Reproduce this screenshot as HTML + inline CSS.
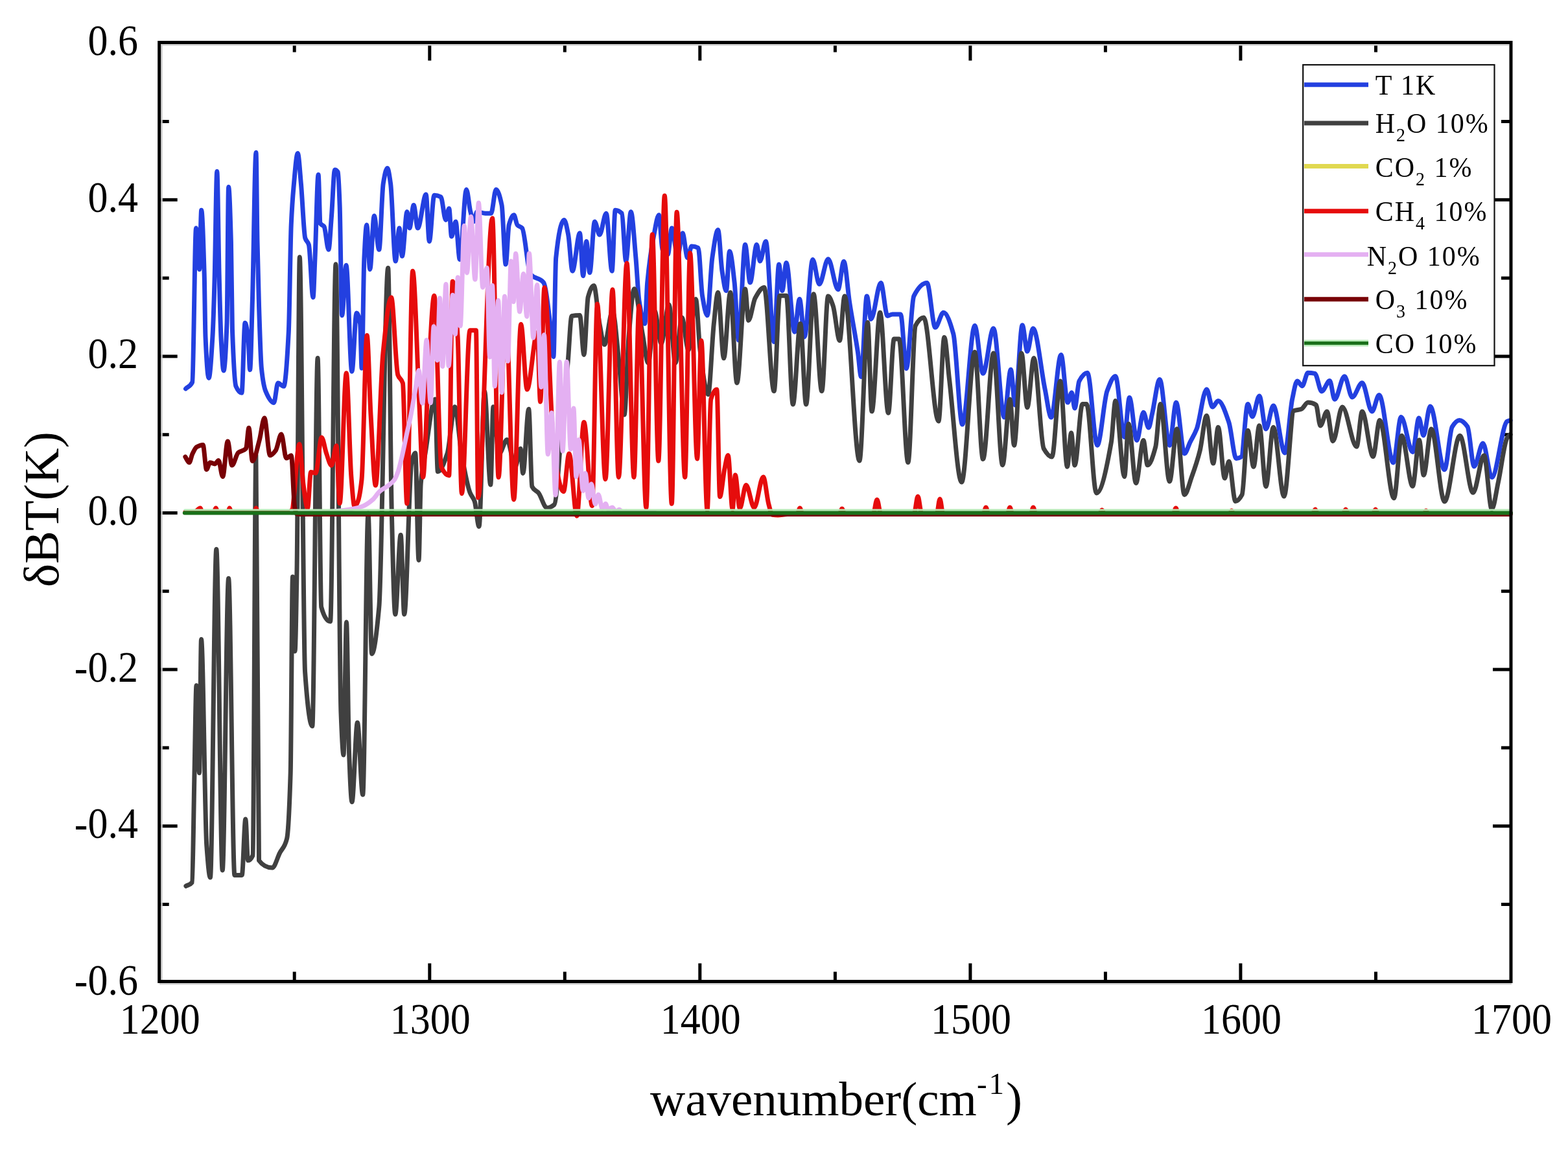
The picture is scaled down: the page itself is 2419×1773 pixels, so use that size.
<!DOCTYPE html><html><head><meta charset="utf-8"><style>html,body{margin:0;padding:0;background:#fff;}svg{display:block}text{font-family:"Liberation Serif","Times New Roman",serif;fill:#000}</style></head><body>
<svg xmlns="http://www.w3.org/2000/svg" width="2419" height="1773" viewBox="0 0 2419 1773">
<rect width="2419" height="1773" fill="#fff"/>
<g stroke="#000" stroke-width="5">
<line x1="245.7" y1="187.5" x2="260.7" y2="187.5"/>
<line x1="2331.0" y1="187.5" x2="2316.0" y2="187.5"/>
<line x1="245.7" y1="308.3" x2="273.7" y2="308.3"/>
<line x1="2331.0" y1="308.3" x2="2303.0" y2="308.3"/>
<line x1="245.7" y1="429.1" x2="260.7" y2="429.1"/>
<line x1="2331.0" y1="429.1" x2="2316.0" y2="429.1"/>
<line x1="245.7" y1="549.9" x2="273.7" y2="549.9"/>
<line x1="2331.0" y1="549.9" x2="2303.0" y2="549.9"/>
<line x1="245.7" y1="670.7" x2="260.7" y2="670.7"/>
<line x1="2331.0" y1="670.7" x2="2316.0" y2="670.7"/>
<line x1="245.7" y1="791.5" x2="273.7" y2="791.5"/>
<line x1="2331.0" y1="791.5" x2="2303.0" y2="791.5"/>
<line x1="245.7" y1="912.3" x2="260.7" y2="912.3"/>
<line x1="2331.0" y1="912.3" x2="2316.0" y2="912.3"/>
<line x1="245.7" y1="1033.1" x2="273.7" y2="1033.1"/>
<line x1="2331.0" y1="1033.1" x2="2303.0" y2="1033.1"/>
<line x1="245.7" y1="1153.9" x2="260.7" y2="1153.9"/>
<line x1="2331.0" y1="1153.9" x2="2316.0" y2="1153.9"/>
<line x1="245.7" y1="1274.7" x2="273.7" y2="1274.7"/>
<line x1="2331.0" y1="1274.7" x2="2303.0" y2="1274.7"/>
<line x1="245.7" y1="1395.5" x2="260.7" y2="1395.5"/>
<line x1="2331.0" y1="1395.5" x2="2316.0" y2="1395.5"/>
<line x1="454.2" y1="65.5" x2="454.2" y2="80.5"/>
<line x1="454.2" y1="1514.5" x2="454.2" y2="1499.5"/>
<line x1="662.8" y1="65.5" x2="662.8" y2="93.5"/>
<line x1="662.8" y1="1514.5" x2="662.8" y2="1486.5"/>
<line x1="871.3" y1="65.5" x2="871.3" y2="80.5"/>
<line x1="871.3" y1="1514.5" x2="871.3" y2="1499.5"/>
<line x1="1079.8" y1="65.5" x2="1079.8" y2="93.5"/>
<line x1="1079.8" y1="1514.5" x2="1079.8" y2="1486.5"/>
<line x1="1288.4" y1="65.5" x2="1288.4" y2="80.5"/>
<line x1="1288.4" y1="1514.5" x2="1288.4" y2="1499.5"/>
<line x1="1496.9" y1="65.5" x2="1496.9" y2="93.5"/>
<line x1="1496.9" y1="1514.5" x2="1496.9" y2="1486.5"/>
<line x1="1705.4" y1="65.5" x2="1705.4" y2="80.5"/>
<line x1="1705.4" y1="1514.5" x2="1705.4" y2="1499.5"/>
<line x1="1913.9" y1="65.5" x2="1913.9" y2="93.5"/>
<line x1="1913.9" y1="1514.5" x2="1913.9" y2="1486.5"/>
<line x1="2122.5" y1="65.5" x2="2122.5" y2="80.5"/>
<line x1="2122.5" y1="1514.5" x2="2122.5" y2="1499.5"/>
</g>
<g fill="none" stroke-width="7" stroke-linejoin="round" stroke-linecap="round">
<path stroke="#2340e0" d="M286.5,599.9C289.9,596.5 293.3,597.0 296.7,589.8C298.6,585.7 300.6,352.1 302.5,352.1C304.2,352.1 305.9,415.7 307.6,415.7C308.6,415.7 309.7,324.2 310.7,324.2C312.2,324.2 313.7,373.5 315.2,423.3C315.8,443.2 316.4,506.4 317.0,519.9C318.7,558.1 320.4,583.4 322.1,583.4C324.0,583.4 326.0,551.7 327.9,519.9C328.9,502.9 330.0,468.6 331.0,433.5C332.3,390.4 333.5,264.5 334.8,264.5C335.9,264.5 337.0,380.5 338.1,423.3C339.1,463.5 340.2,506.1 341.2,525.0C342.5,548.1 343.7,572.0 345.0,572.0C346.7,572.0 348.3,543.7 350.0,499.5C350.9,476.5 351.7,288.6 352.6,288.6C353.9,288.6 355.1,328.0 356.4,372.5C357.1,395.9 357.7,488.2 358.4,507.2C360.3,560.4 362.1,591.8 364.0,596.1C367.0,602.9 369.9,606.3 372.9,606.3C374.6,606.3 376.3,498.3 378.0,498.3C379.7,498.3 381.4,510.2 383.1,525.0C383.9,532.2 384.8,570.7 385.6,570.7C386.9,570.7 388.1,505.7 389.4,464.0C391.3,402.6 393.1,235.2 395.0,235.2C395.7,235.2 396.3,338.9 397.0,372.5C397.9,416.2 398.7,447.5 399.6,474.1C400.9,513.0 402.1,556.1 403.4,568.2C405.5,588.6 407.7,598.6 409.8,603.7C414.0,613.8 418.3,621.5 422.5,621.5C424.6,621.5 426.7,591.0 428.8,591.0C431.8,591.0 434.7,596.1 437.7,596.1C440.2,596.1 442.8,559.5 445.3,512.2C446.6,487.9 447.9,376.4 449.2,347.1C450.5,318.6 451.7,302.6 453.0,288.6C455.1,265.4 457.2,236.5 459.3,236.5C461.0,236.5 462.7,265.2 464.4,283.5C466.5,306.4 468.7,360.7 470.8,367.4C472.7,373.3 474.5,371.8 476.4,377.6C478.6,384.4 480.8,458.9 483.0,458.9C484.0,458.9 485.0,420.2 486.0,397.9C487.7,360.0 489.4,269.6 491.1,269.6C492.1,269.6 493.1,342.6 494.1,344.5C496.1,348.2 498.0,346.7 500.0,349.6C502.3,352.9 504.6,385.2 506.9,385.2C508.4,385.2 509.9,353.2 511.4,334.4C513.1,313.1 514.8,261.9 516.5,261.9C518.1,261.9 519.7,263.1 521.3,265.7C522.2,267.2 523.2,292.3 524.1,316.6C525.3,347.0 526.4,486.8 527.6,486.8C529.7,486.8 531.9,409.3 534.0,409.3C537.0,409.3 539.9,573.2 542.9,573.2C545.3,573.2 547.6,483.0 550.0,483.0C551.9,483.0 553.7,488.4 555.6,499.5C556.4,504.4 557.3,568.2 558.1,568.2C559.4,568.2 560.6,424.0 561.9,397.9C563.2,371.8 564.4,347.1 565.7,347.1C567.4,347.1 569.1,415.7 570.8,415.7C572.9,415.7 575.1,333.1 577.2,333.1C579.7,333.1 582.3,385.2 584.8,385.2C586.9,385.2 589.1,296.6 591.2,283.5C593.3,270.6 595.4,259.4 597.5,259.4C599.2,259.4 600.9,271.6 602.6,283.5C605.1,301.3 607.7,403.0 610.2,403.0C612.2,403.0 614.1,352.1 616.1,352.1C617.5,352.1 619.0,395.3 620.4,395.3C622.9,395.3 625.5,326.7 628.0,326.7C629.3,326.7 630.5,352.1 631.8,352.1C633.9,352.1 636.1,316.6 638.2,316.6C640.3,316.6 642.4,352.1 644.5,352.1C648.7,352.1 653.0,300.0 657.2,300.0C658.9,300.0 660.6,372.5 662.3,372.5C664.8,372.5 667.4,301.3 669.9,301.3C673.3,301.3 676.7,302.2 680.1,303.9C682.6,305.2 685.2,339.4 687.7,339.4C689.4,339.4 691.1,321.7 692.8,321.7C694.1,321.7 695.3,364.9 696.6,364.9C698.7,364.9 700.9,342.0 703.0,342.0C705.1,342.0 707.2,400.4 709.3,400.4C712.7,400.4 716.1,292.4 719.5,292.4C721.6,292.4 723.7,318.7 725.8,326.7C727.5,333.2 729.2,342.0 730.9,342.0C732.6,342.0 734.3,326.7 736.0,326.7C740.2,326.7 744.5,329.3 748.7,329.3C751.7,329.3 754.6,329.3 757.6,329.3C760.1,329.3 762.7,292.4 765.2,292.4C768.2,292.4 771.1,302.3 774.1,316.6C776.1,326.4 778.2,408.0 780.2,408.0C781.9,408.0 783.5,353.0 785.2,347.0C787.8,337.8 790.3,331.8 792.9,331.8C794.6,331.8 796.3,345.1 798.0,347.0C800.5,349.9 803.1,349.3 805.6,352.1C809.8,356.9 814.1,418.2 818.3,423.3C825.1,431.4 831.8,427.5 838.6,436.0C842.0,440.2 845.4,472.7 848.8,499.5C850.5,512.9 852.2,550.4 853.9,550.4C855.2,550.4 856.4,410.1 857.7,397.9C861.9,357.1 866.2,339.4 870.4,339.4C872.5,339.4 874.6,351.5 876.7,362.3C878.8,373.2 881.0,418.2 883.1,418.2C886.9,418.2 890.7,359.8 894.5,359.8C896.2,359.8 897.9,425.8 899.6,425.8C901.3,425.8 903.0,372.5 904.7,372.5C906.4,372.5 908.1,420.8 909.8,420.8C912.3,420.8 914.9,342.0 917.4,342.0C919.9,342.0 922.5,362.3 925.0,362.3C928.4,362.3 931.8,329.3 935.2,329.3C938.2,329.3 941.1,418.2 944.1,418.2C945.8,418.2 947.5,324.2 949.2,324.2C952.6,324.2 955.9,325.8 959.3,329.3C961.4,331.5 963.6,403.0 965.7,403.0C968.2,403.0 970.8,326.7 973.3,326.7C975.8,326.7 978.4,370.1 980.9,397.9C982.6,416.6 984.3,453.1 986.0,464.0C989.0,483.0 991.9,499.5 994.9,499.5C996.2,499.5 997.4,449.6 998.7,436.0C1002.1,399.5 1005.5,379.6 1008.9,362.3C1011.4,349.4 1014.0,331.8 1016.5,331.8C1018.3,331.8 1020.2,381.9 1022.0,385.2C1024.7,390.1 1027.5,392.8 1030.2,392.8C1032.3,392.8 1034.4,352.1 1036.5,352.1C1039.5,352.1 1042.4,395.3 1045.4,395.3C1047.9,395.3 1050.5,359.8 1053.0,359.8C1055.6,359.8 1058.1,397.9 1060.7,397.9C1062.8,397.9 1064.9,380.1 1067.0,380.1C1070.4,380.1 1073.8,380.8 1077.2,382.6C1079.3,383.7 1081.4,443.7 1083.5,456.3C1086.1,471.7 1088.6,486.8 1091.2,486.8C1093.7,486.8 1096.3,415.5 1098.8,397.9C1101.8,377.3 1104.7,354.7 1107.7,354.7C1109.8,354.7 1111.9,404.6 1114.0,418.2C1116.1,432.0 1118.3,448.7 1120.4,448.7C1122.1,448.7 1123.8,387.7 1125.5,387.7C1128.0,387.7 1130.6,413.5 1133.1,436.0C1135.2,454.6 1137.3,525.0 1139.4,525.0C1142.8,525.0 1146.2,377.6 1149.6,377.6C1152.1,377.6 1154.7,436.0 1157.2,436.0C1160.6,436.0 1164.0,377.6 1167.4,377.6C1169.1,377.6 1170.8,403.0 1172.5,403.0C1175.5,403.0 1178.4,372.5 1181.4,372.5C1185.6,372.5 1189.9,527.5 1194.1,527.5C1196.6,527.5 1199.2,408.0 1201.7,408.0C1203.4,408.0 1205.1,448.7 1206.8,448.7C1208.9,448.7 1211.0,405.5 1213.1,405.5C1217.3,405.5 1221.6,512.2 1225.8,512.2C1228.4,512.2 1230.9,461.4 1233.5,461.4C1236.0,461.4 1238.6,519.9 1241.1,519.9C1245.3,519.9 1249.6,400.4 1253.8,400.4C1257.2,400.4 1260.6,438.6 1264.0,438.6C1268.5,438.6 1273.1,399.7 1277.6,399.7C1282.7,399.7 1287.8,446.7 1292.9,446.7C1295.9,446.7 1298.8,403.5 1301.8,403.5C1304.8,403.5 1307.7,447.6 1310.7,467.1C1314.9,494.9 1319.2,514.7 1323.4,543.3C1325.1,554.8 1326.8,581.4 1328.5,581.4C1331.4,581.4 1334.4,456.9 1337.3,456.9C1339.4,456.9 1341.6,492.5 1343.7,492.5C1348.8,492.5 1353.8,436.6 1358.9,436.6C1362.3,436.6 1365.7,487.4 1369.1,487.4C1371.6,487.4 1374.2,484.9 1376.7,484.9C1380.9,484.9 1385.2,484.9 1389.4,484.9C1392.4,484.9 1395.3,568.7 1398.3,568.7C1402.1,568.7 1406.0,464.4 1409.8,456.9C1416.6,443.6 1423.3,436.6 1430.1,436.6C1434.3,436.6 1438.6,505.2 1442.8,505.2C1447.0,505.2 1451.3,482.3 1455.5,482.3C1460.6,482.3 1465.7,497.0 1470.8,515.3C1475.4,531.9 1480.1,655.1 1484.7,655.1C1491.1,655.1 1497.4,502.6 1503.8,502.6C1508.0,502.6 1512.3,576.3 1516.5,576.3C1521.9,576.3 1527.3,506.7 1532.7,506.7C1538.2,506.7 1543.7,644.0 1549.2,644.0C1552.6,644.0 1556.0,570.3 1559.4,570.3C1561.6,570.3 1563.8,625.0 1566.0,625.0C1569.7,625.0 1573.5,501.7 1577.2,501.7C1579.7,501.7 1582.3,542.3 1584.8,542.3C1587.8,542.3 1590.7,506.7 1593.7,506.7C1599.8,506.7 1605.9,570.9 1612.0,600.0C1615.2,615.4 1618.5,644.0 1621.7,644.0C1626.8,644.0 1631.8,547.4 1636.9,547.4C1640.3,547.4 1643.7,621.1 1647.1,621.1C1649.2,621.1 1651.3,605.8 1653.4,605.8C1654.9,605.8 1656.5,630.0 1658.0,630.0C1660.3,630.0 1662.6,592.4 1664.9,588.1C1669.1,580.2 1673.4,575.3 1677.6,575.3C1682.7,575.3 1687.7,687.2 1692.8,687.2C1697.9,687.2 1702.9,616.8 1708.0,603.3C1712.3,591.9 1716.5,580.4 1720.8,580.4C1725.4,580.4 1730.1,674.5 1734.7,674.5C1737.3,674.5 1739.8,613.5 1742.4,613.5C1746.2,613.5 1750.0,679.5 1753.8,679.5C1757.2,679.5 1760.6,636.3 1764.0,636.3C1766.7,636.3 1769.3,660.0 1772.0,660.0C1773.9,660.0 1775.7,645.8 1777.6,638.0C1781.4,622.0 1785.3,585.5 1789.1,585.5C1794.2,585.5 1799.2,687.2 1804.3,687.2C1807.7,687.2 1811.1,621.1 1814.5,621.1C1818.7,621.1 1823.0,699.9 1827.2,699.9C1830.2,699.9 1833.1,688.0 1836.1,682.1C1839.5,675.4 1842.8,670.6 1846.2,661.8C1851.3,648.5 1856.4,600.8 1861.5,600.8C1864.5,600.8 1867.5,628.0 1870.5,628.0C1873.4,628.0 1876.4,618.6 1879.3,618.6C1884.8,618.6 1890.3,635.6 1895.8,651.6C1899.6,662.7 1903.4,707.5 1907.2,707.5C1909.8,707.5 1912.3,706.5 1914.9,705.0C1918.3,703.0 1921.6,623.6 1925.0,623.6C1927.3,623.6 1929.7,643.0 1932.0,643.0C1935.6,643.0 1939.2,610.9 1942.8,610.9C1946.2,610.9 1949.6,662.0 1953.0,662.0C1956.8,662.0 1960.6,626.1 1964.4,626.1C1970.3,626.1 1976.3,699.0 1982.2,699.0C1986.0,699.0 1989.8,634.0 1993.6,616.0C1996.2,603.8 1998.7,588.1 2001.3,588.1C2003.8,588.1 2006.4,595.7 2008.9,595.7C2011.9,595.7 2014.8,575.3 2017.8,575.3C2021.4,575.3 2024.9,575.7 2028.5,576.4C2032.0,577.1 2035.5,604.0 2039.0,604.0C2043.1,604.0 2047.3,587.5 2051.4,587.5C2053.9,587.5 2056.5,616.3 2059.0,616.3C2064.1,616.3 2069.1,580.7 2074.2,580.7C2078.2,580.7 2082.1,612.9 2086.1,612.9C2091.2,612.9 2096.3,590.8 2101.4,590.8C2106.5,590.8 2111.5,634.9 2116.6,634.9C2120.3,634.9 2123.9,609.5 2127.6,609.5C2134.9,609.5 2142.2,714.0 2149.5,714.0C2153.5,714.0 2157.5,643.4 2161.5,643.4C2167.4,643.4 2173.4,697.6 2179.3,697.6C2182.5,697.6 2185.8,645.0 2189.0,645.0C2191.3,645.0 2193.7,672.0 2196.0,672.0C2199.5,672.0 2202.9,627.0 2206.4,627.0C2213.8,627.0 2221.1,724.7 2228.5,724.7C2232.4,724.7 2236.4,664.7 2240.3,658.6C2244.0,652.8 2247.7,648.5 2251.4,648.5C2255.6,648.5 2259.8,652.5 2264.0,658.6C2267.4,663.5 2270.8,719.7 2274.2,719.7C2278.7,719.7 2283.3,684.1 2287.8,684.1C2292.3,684.1 2296.9,736.6 2301.4,736.6C2309.3,736.6 2317.2,654.4 2325.1,650.2C2326.7,649.3 2328.4,649.1 2330.0,648.5"/>
<path stroke="#404040" d="M286.9,1367.2C290.0,1365.3 293.2,1365.9 296.3,1361.6C297.5,1359.9 298.8,1248.7 300.0,1192.8C301.0,1147.5 302.0,1057.7 303.0,1057.7C304.5,1057.7 306.0,1192.8 307.5,1192.8C308.5,1192.8 309.5,986.4 310.5,986.4C313.3,986.4 316.0,1267.5 318.8,1305.3C320.7,1330.8 322.5,1354.1 324.4,1354.1C327.5,1354.1 330.7,847.5 333.8,847.5C336.9,847.5 340.1,1342.9 343.2,1342.9C346.3,1342.9 349.5,892.6 352.6,892.6C355.7,892.6 358.8,1350.4 361.9,1350.4C365.7,1350.4 369.4,1350.4 373.2,1350.4C375.1,1350.4 376.9,1264.0 378.8,1264.0C380.1,1264.0 381.3,1327.8 382.6,1327.8C385.1,1327.8 387.5,1325.5 390.0,1320.0C391.6,1316.3 393.3,702.4 394.9,702.4C396.4,702.4 398.0,1325.7 399.5,1327.8C406.4,1337.3 413.2,1339.1 420.1,1339.1C423.9,1339.1 427.6,1324.1 431.4,1316.6C435.1,1309.1 438.9,1308.9 442.6,1294.1C444.5,1286.7 446.3,1252.7 448.2,1192.8C449.3,1157.5 450.4,890.0 451.5,890.0C452.7,890.0 453.8,1005.0 455.0,1005.0C456.0,1005.0 457.0,939.2 458.0,880.0C459.4,795.2 460.9,396.7 462.3,396.7C465.1,396.7 467.8,997.8 470.6,1037.0C474.3,1089.9 478.1,1120.5 481.8,1120.5C484.6,1120.5 487.3,552.6 490.1,552.6C492.0,552.6 493.8,930.1 495.7,936.8C500.3,953.5 505.0,959.0 509.6,959.0C512.4,959.0 515.2,407.8 518.0,407.8C520.7,407.8 523.3,1032.2 526.0,1100.0C527.3,1133.9 528.7,1165.0 530.0,1165.0C531.5,1165.0 533.0,960.0 534.5,960.0C535.8,960.0 537.2,1125.5 538.5,1160.0C540.0,1198.8 541.5,1237.5 543.0,1237.5C545.8,1237.5 548.6,1115.0 551.4,1115.0C554.2,1115.0 556.9,1226.3 559.7,1226.3C562.5,1226.3 565.2,792.0 568.0,792.0C569.9,792.0 571.7,1009.0 573.6,1009.0C577.3,1009.0 581.1,976.9 584.8,936.8C589.4,887.1 594.1,413.4 598.7,413.4C600.5,413.4 602.4,712.2 604.2,786.5C606.1,862.1 607.9,948.0 609.8,948.0C612.6,948.0 615.4,825.4 618.2,825.4C620.0,825.4 621.9,948.0 623.7,948.0C627.4,948.0 631.2,729.9 634.9,714.0C636.8,705.8 638.8,699.0 640.7,699.0C642.5,699.0 644.2,864.4 646.0,864.4C647.1,864.4 648.1,759.8 649.2,746.4C651.5,717.9 653.7,714.0 656.0,700.0C661.1,668.6 666.1,616.0 671.2,616.0C672.6,616.0 674.0,727.8 675.4,727.8C680.3,727.8 685.1,714.4 690.0,700.0C693.9,688.4 697.8,627.8 701.7,627.8C705.1,627.8 708.6,680.7 712.0,700.0C716.3,724.3 720.7,748.8 725.0,760.0C727.4,766.2 729.8,766.8 732.2,773.6C734.5,780.1 736.7,812.5 739.0,812.5C741.8,812.5 744.7,604.0 747.5,604.0C750.6,604.0 753.7,748.1 756.8,748.1C758.2,748.1 759.6,627.8 761.0,627.8C764.0,627.8 767.0,700.0 770.0,700.0C774.1,700.0 778.1,678.6 782.2,678.6C786.5,678.6 790.7,720.0 795.0,720.0C797.7,720.0 800.3,692.3 803.0,692.3C804.3,692.3 805.5,730.4 806.8,730.4C809.8,730.4 812.7,631.3 815.7,631.3C817.4,631.3 819.1,747.1 820.8,750.7C824.2,758.0 827.6,756.6 831.0,760.9C835.2,766.3 839.5,783.7 843.7,783.7C847.5,783.7 851.3,781.8 855.1,778.7C859.4,775.1 863.7,684.4 868.0,640.0C870.7,612.4 873.3,589.3 876.0,560.0C878.0,538.0 880.0,488.2 882.0,487.7C886.2,486.7 890.3,486.4 894.5,486.4C896.6,486.4 898.8,547.4 900.9,547.4C903.0,547.4 905.1,466.2 907.2,458.5C910.2,447.6 913.1,440.7 916.1,440.7C919.1,440.7 922.0,484.6 925.0,500.0C927.5,512.8 929.9,531.8 932.4,531.8C936.6,531.8 940.8,480.0 945.0,480.0C948.3,480.0 951.7,530.4 955.0,560.0C957.7,584.0 960.4,640.0 963.1,640.0C965.4,640.0 967.7,547.3 970.0,520.0C972.8,486.8 975.6,445.7 978.4,445.7C982.6,445.7 986.9,492.2 991.1,514.4C994.1,530.0 997.0,560.0 1000.0,560.0C1003.3,560.0 1006.7,480.0 1010.0,480.0C1013.3,480.0 1016.7,530.0 1020.0,530.0C1024.0,530.0 1028.0,470.0 1032.0,470.0C1035.3,470.0 1038.7,560.0 1042.0,560.0C1045.3,560.0 1048.7,490.0 1052.0,490.0C1055.3,490.0 1058.7,540.0 1062.0,540.0C1065.8,540.0 1069.6,461.4 1073.4,461.4C1075.6,461.4 1077.8,522.7 1080.0,540.0C1084.1,572.5 1088.3,608.7 1092.4,608.7C1095.4,608.7 1098.3,526.7 1101.3,499.4C1103.4,479.7 1105.6,451.2 1107.7,451.2C1110.7,451.2 1113.6,552.8 1116.6,552.8C1120.0,552.8 1123.3,451.2 1126.7,451.2C1130.1,451.2 1133.5,590.9 1136.9,590.9C1141.1,590.9 1145.4,446.1 1149.6,446.1C1151.3,446.1 1153.0,494.4 1154.7,494.4C1158.1,494.4 1161.6,466.2 1165.0,460.0C1169.6,451.7 1174.2,443.5 1178.8,443.5C1183.9,443.5 1189.0,603.6 1194.1,603.6C1197.1,603.6 1200.0,456.2 1203.0,456.2C1206.4,456.2 1209.7,456.2 1213.1,456.2C1216.5,456.2 1219.9,624.0 1223.3,624.0C1227.1,624.0 1230.9,499.4 1234.7,499.4C1237.7,499.4 1240.6,624.0 1243.6,624.0C1247.4,624.0 1251.3,453.7 1255.1,453.7C1259.3,453.7 1263.6,603.6 1267.8,603.6C1271.1,603.6 1274.3,456.9 1277.6,456.9C1280.1,456.9 1282.7,464.9 1285.2,472.1C1288.6,481.7 1292.0,525.5 1295.4,525.5C1297.9,525.5 1300.5,456.9 1303.0,456.9C1310.6,456.9 1318.3,711.0 1325.9,711.0C1330.1,711.0 1334.4,497.6 1338.6,497.6C1340.7,497.6 1342.9,634.8 1345.0,634.8C1349.2,634.8 1353.5,482.3 1357.7,482.3C1361.9,482.3 1366.2,637.3 1370.4,637.3C1373.4,637.3 1376.3,523.0 1379.3,523.0C1381.8,523.0 1384.4,523.0 1386.9,523.0C1391.6,523.0 1396.2,713.6 1400.9,713.6C1404.7,713.6 1408.5,509.9 1412.3,502.6C1416.5,494.4 1420.8,489.9 1425.0,489.9C1432.6,489.9 1440.3,650.0 1447.9,650.0C1450.9,650.0 1453.8,520.4 1456.8,520.4C1459.3,520.4 1461.9,562.8 1464.4,584.0C1470.8,637.3 1477.1,744.1 1483.5,744.1C1490.3,744.1 1497.0,543.3 1503.8,543.3C1508.0,543.3 1512.3,708.5 1516.5,708.5C1521.9,708.5 1527.3,544.9 1532.7,544.9C1537.4,544.9 1542.0,717.7 1546.7,717.7C1550.5,717.7 1554.3,616.0 1558.1,616.0C1560.2,616.0 1562.4,687.2 1564.5,687.2C1568.3,687.2 1572.1,544.9 1575.9,544.9C1578.9,544.9 1581.8,628.7 1584.8,628.7C1588.2,628.7 1591.6,552.5 1595.0,552.5C1600.1,552.5 1605.1,683.4 1610.2,692.3C1614.4,699.8 1618.7,705.0 1622.9,705.0C1627.1,705.0 1631.4,588.1 1635.6,588.1C1639.2,588.1 1642.9,720.2 1646.5,720.2C1648.5,720.2 1650.6,668.0 1652.6,668.0C1654.4,668.0 1656.2,718.0 1658.0,718.0C1662.0,718.0 1665.9,623.6 1669.9,623.6C1672.0,623.6 1674.2,623.6 1676.3,623.6C1681.4,623.6 1686.4,760.9 1691.5,760.9C1699.1,760.9 1706.8,725.0 1714.4,682.1C1716.5,670.1 1718.7,618.6 1720.8,618.6C1725.4,618.6 1730.1,735.5 1734.7,735.5C1736.8,735.5 1739.0,654.1 1741.1,654.1C1744.9,654.1 1748.7,745.6 1752.5,745.6C1756.3,745.6 1760.2,679.5 1764.0,679.5C1766.1,679.5 1768.2,717.7 1770.3,717.7C1774.4,717.7 1778.6,705.3 1782.7,689.7C1785.2,680.2 1787.8,623.6 1790.3,623.6C1795.0,623.6 1799.6,743.1 1804.3,743.1C1808.1,743.1 1811.9,661.8 1815.7,661.8C1819.5,661.8 1823.4,763.4 1827.2,763.4C1831.0,763.4 1834.8,746.0 1838.6,735.5C1842.8,723.8 1847.1,711.8 1851.3,694.8C1854.7,681.2 1858.1,641.4 1861.5,641.4C1864.9,641.4 1868.3,715.1 1871.7,715.1C1874.2,715.1 1876.8,659.2 1879.3,659.2C1882.7,659.2 1886.0,738.0 1889.4,738.0C1891.5,738.0 1893.7,712.0 1895.8,712.0C1899.2,712.0 1902.6,773.6 1906.0,773.6C1909.4,773.6 1912.7,769.7 1916.1,763.4C1919.1,757.8 1922.0,664.3 1925.0,664.3C1928.0,664.3 1930.9,720.2 1933.9,720.2C1936.9,720.2 1939.8,656.7 1942.8,656.7C1946.2,656.7 1949.6,750.7 1953.0,750.7C1956.8,750.7 1960.6,659.2 1964.4,659.2C1969.9,659.2 1975.4,766.0 1980.9,766.0C1986.0,766.0 1991.1,635.9 1996.2,633.8C2000.0,632.2 2003.8,632.7 2007.6,631.3C2011.0,630.1 2014.4,621.1 2017.8,621.1C2021.9,621.1 2026.1,622.2 2030.2,624.7C2032.5,626.1 2034.7,657.0 2037.0,657.0C2040.4,657.0 2043.7,634.9 2047.1,634.9C2050.2,634.9 2053.3,680.7 2056.4,680.7C2061.2,680.7 2066.0,628.1 2070.8,628.1C2078.2,628.1 2085.5,689.2 2092.9,689.2C2095.7,689.2 2098.6,634.9 2101.4,634.9C2107.0,634.9 2112.7,704.4 2118.3,704.4C2121.7,704.4 2125.1,648.5 2128.5,648.5C2135.8,648.5 2143.2,768.8 2150.5,768.8C2154.5,768.8 2158.4,672.2 2162.4,672.2C2168.0,672.2 2173.7,750.2 2179.3,750.2C2182.7,750.2 2186.1,679.0 2189.5,679.0C2191.8,679.0 2194.0,733.2 2196.3,733.2C2200.2,733.2 2204.2,662.0 2208.1,662.0C2214.9,662.0 2221.7,773.9 2228.5,773.9C2236.4,773.9 2244.3,672.2 2252.2,672.2C2259.0,672.2 2265.7,760.3 2272.5,760.3C2278.2,760.3 2283.8,702.7 2289.5,702.7C2293.5,702.7 2297.4,785.8 2301.4,785.8C2304.8,785.8 2308.1,758.7 2311.5,743.4C2316.0,722.8 2320.6,682.7 2325.1,675.6C2326.7,673.0 2328.4,672.2 2330.0,670.5"/>
<path stroke="#e60c0c" d="M286.0,790.0C290.7,790.0 295.3,790.0 300.0,790.0C303.0,790.0 306.0,784.0 309.0,784.0C310.0,784.0 311.0,790.0 312.0,790.0C318.0,790.0 324.0,790.0 330.0,790.0C331.0,790.0 332.0,784.0 333.0,784.0C334.0,784.0 335.0,790.0 336.0,790.0C341.3,790.0 346.7,790.0 352.0,790.0C352.7,790.0 353.3,784.0 354.0,784.0C355.0,784.0 356.0,790.0 357.0,790.0C369.0,790.0 381.0,790.0 393.0,790.0C393.7,790.0 394.3,784.0 395.0,784.0C396.0,784.0 397.0,790.0 398.0,790.0C413.7,790.0 429.3,790.0 445.0,790.0C446.8,790.0 448.5,788.7 450.3,787.0C454.1,783.3 458.0,685.2 461.8,685.2C463.9,685.2 466.0,733.7 468.1,748.8C470.2,764.1 472.4,784.4 474.5,784.4C476.2,784.4 477.9,728.4 479.6,728.4C482.1,728.4 484.5,730.0 487.0,730.0C490.0,730.0 493.1,675.0 496.1,675.0C498.7,675.0 501.2,693.3 503.8,700.4C506.3,707.4 508.9,718.3 511.4,718.3C513.9,718.3 516.5,687.7 519.0,687.7C520.7,687.7 522.4,776.7 524.1,776.7C527.5,776.7 530.9,575.8 534.3,575.8C536.8,575.8 539.4,704.9 541.9,736.0C543.6,756.9 545.3,781.8 547.0,781.8C548.7,781.8 550.3,778.0 552.0,774.0C554.0,769.2 556.0,758.2 558.0,740.0C560.7,715.4 563.4,517.4 566.1,517.4C568.1,517.4 570.0,605.9 572.0,640.0C574.5,682.8 576.9,749.0 579.4,749.0C583.2,749.0 587.1,583.4 590.9,545.4C595.1,503.4 599.4,458.9 603.6,458.9C607.0,458.9 610.4,568.9 613.8,578.5C616.3,585.6 618.9,583.0 621.4,591.2C623.5,598.1 625.7,777.0 627.8,777.0C630.8,777.0 633.7,418.2 636.7,418.2C640.1,418.2 643.5,556.6 646.9,624.3C648.8,662.1 650.7,736.4 652.6,736.4C655.1,736.4 657.5,640.3 660.0,600.0C663.3,546.1 666.6,456.3 669.9,456.3C673.6,456.3 677.2,712.9 680.9,720.7C684.8,729.1 688.8,733.7 692.7,733.7C694.5,733.7 696.4,434.2 698.2,434.2C700.8,434.2 703.5,474.0 706.1,519.2C708.2,555.3 710.3,761.6 712.4,761.6C716.6,761.6 720.8,509.8 725.0,509.8C728.1,509.8 731.3,509.8 734.4,509.8C735.5,509.8 736.5,767.9 737.6,767.9C744.9,767.9 752.3,336.7 759.6,336.7C762.8,336.7 765.9,736.4 769.1,736.4C772.8,736.4 776.4,475.2 780.1,475.2C784.3,475.2 788.5,771.0 792.7,771.0C796.4,771.0 800.0,500.3 803.7,500.3C806.8,500.3 810.0,601.0 813.1,601.0C818.4,601.0 823.6,512.9 828.9,512.9C830.5,512.9 832.0,620.0 833.6,620.0C835.7,620.0 837.8,443.7 839.9,443.7C844.9,443.7 850.0,667.2 855.0,700.0C859.8,731.3 864.6,758.4 869.4,758.4C872.3,758.4 875.1,700.0 878.0,700.0C882.0,700.0 885.9,796.2 889.9,796.2C893.6,796.2 897.2,651.4 900.9,651.4C905.1,651.4 909.3,780.5 913.5,780.5C916.1,780.5 918.8,468.9 921.4,468.9C925.6,468.9 929.8,739.5 934.0,739.5C937.7,739.5 941.3,446.8 945.0,446.8C948.1,446.8 951.3,736.4 954.4,736.4C958.6,736.4 962.8,405.9 967.0,405.9C970.7,405.9 974.3,736.4 978.0,736.4C980.6,736.4 983.3,472.0 985.9,472.0C989.6,472.0 993.2,783.6 996.9,783.6C1000.1,783.6 1003.2,361.8 1006.4,361.8C1009.5,361.8 1012.7,711.2 1015.8,711.2C1019.0,711.2 1022.1,302.0 1025.3,302.0C1029.0,302.0 1032.6,777.3 1036.3,777.3C1038.9,777.3 1041.5,327.2 1044.1,327.2C1048.3,327.2 1052.5,736.4 1056.7,736.4C1059.3,736.4 1062.0,390.2 1064.6,390.2C1068.3,390.2 1071.9,708.0 1075.6,708.0C1077.7,708.0 1079.8,525.5 1081.9,525.5C1085.0,525.5 1088.0,787.4 1091.1,787.4C1093.0,787.4 1094.8,622.6 1096.7,616.2C1099.7,605.8 1102.8,600.9 1105.8,600.9C1107.4,600.9 1109.0,766.5 1110.6,766.5C1112.9,766.5 1115.3,735.9 1117.6,724.8C1119.5,716.0 1121.3,702.5 1123.2,702.5C1125.5,702.5 1127.8,786.0 1130.1,786.0C1131.5,786.0 1132.9,733.1 1134.3,733.1C1136.6,733.1 1139.0,784.6 1141.3,784.6C1144.5,784.6 1147.8,748.4 1151.0,748.4C1155.2,748.4 1159.3,783.3 1163.5,783.3C1168.2,783.3 1172.8,735.9 1177.5,735.9C1180.3,735.9 1183.0,767.5 1185.8,777.7C1187.7,784.6 1189.5,794.1 1191.4,794.4C1194.3,794.8 1197.1,795.0 1200.0,795.0C1205.0,795.0 1210.0,793.5 1215.0,793.5C1220.0,793.5 1225.0,793.5 1230.0,793.5C1231.3,793.5 1232.7,784.0 1234.0,784.0C1235.3,784.0 1236.7,793.5 1238.0,793.5C1257.0,793.5 1276.0,793.5 1295.0,793.5C1296.3,793.5 1297.7,785.0 1299.0,785.0C1300.3,785.0 1301.7,793.5 1303.0,793.5C1317.7,793.5 1332.3,793.5 1347.0,793.5C1349.0,793.5 1351.0,771.0 1353.0,771.0C1355.0,771.0 1357.0,793.5 1359.0,793.5C1376.0,793.5 1393.0,793.5 1410.0,793.5C1412.0,793.5 1414.0,766.0 1416.0,766.0C1418.0,766.0 1420.0,793.5 1422.0,793.5C1429.7,793.5 1437.3,793.5 1445.0,793.5C1446.7,793.5 1448.3,770.0 1450.0,770.0C1451.7,770.0 1453.3,793.5 1455.0,793.5C1475.7,793.5 1496.3,793.5 1517.0,793.5C1518.3,793.5 1519.7,783.0 1521.0,783.0C1522.3,783.0 1523.7,793.5 1525.0,793.5C1534.7,793.5 1544.3,793.5 1554.0,793.5C1555.3,793.5 1556.7,783.0 1558.0,783.0C1559.3,783.0 1560.7,793.5 1562.0,793.5C1571.3,793.5 1580.7,793.5 1590.0,793.5C1591.3,793.5 1592.7,783.0 1594.0,783.0C1595.3,783.0 1596.7,793.5 1598.0,793.5C1630.7,793.5 1663.3,793.5 1696.0,793.5C1697.3,793.5 1698.7,787.0 1700.0,787.0C1701.3,787.0 1702.7,793.5 1704.0,793.5C1739.3,793.5 1774.7,793.5 1810.0,793.5C1811.3,793.5 1812.7,784.0 1814.0,784.0C1815.3,784.0 1816.7,793.5 1818.0,793.5C1844.3,793.5 1870.7,793.5 1897.0,793.5C1898.0,793.5 1899.0,788.0 1900.0,788.0C1901.0,788.0 1902.0,793.5 1903.0,793.5C1943.7,793.5 1984.3,793.5 2025.0,793.5C2026.3,793.5 2027.7,786.0 2029.0,786.0C2030.3,786.0 2031.7,793.5 2033.0,793.5C2046.0,793.5 2059.0,793.5 2072.0,793.5C2073.3,793.5 2074.7,786.0 2076.0,786.0C2077.3,786.0 2078.7,793.5 2080.0,793.5C2092.7,793.5 2105.3,793.5 2118.0,793.5C2119.3,793.5 2120.7,786.0 2122.0,786.0C2123.3,786.0 2124.7,793.5 2126.0,793.5C2149.7,793.5 2173.3,793.5 2197.0,793.5C2198.0,793.5 2199.0,788.0 2200.0,788.0C2201.0,788.0 2202.0,793.5 2203.0,793.5C2245.3,793.5 2287.7,793.5 2330.0,793.5"/>
<path stroke="#e4b0f2" d="M450.0,791.0C466.7,790.7 483.3,790.6 500.0,790.0C506.7,789.8 513.3,789.1 520.0,788.5C526.7,787.9 533.3,787.1 540.0,786.0C546.7,784.9 553.3,783.5 560.0,781.0C565.0,779.1 570.0,775.3 575.0,771.0C578.7,767.8 582.3,761.1 586.0,758.0C590.0,754.6 594.0,753.1 598.0,750.0C601.3,747.4 604.7,745.4 608.0,741.0C610.0,738.4 612.0,733.5 614.0,728.0C616.0,722.5 618.0,713.4 620.0,705.0C622.3,695.2 624.7,682.8 627.0,672.0C629.3,661.2 631.7,651.9 634.0,640.0C636.3,628.1 638.7,613.3 641.0,600.0C642.7,590.5 644.3,571.4 646.0,571.4C647.9,571.4 649.8,622.2 651.7,622.2C653.8,622.2 655.9,524.8 658.1,524.8C660.1,524.8 662.2,621.6 664.3,621.6C666.0,621.6 667.6,503.7 669.2,503.7C671.0,503.7 672.8,555.9 674.7,555.9C675.9,555.9 677.2,460.0 678.5,460.0C679.9,460.0 681.3,565.4 682.7,565.4C684.5,565.4 686.2,438.4 688.0,438.4C689.3,438.4 690.7,564.7 692.1,564.7C694.2,564.7 696.3,455.3 698.4,455.3C699.7,455.3 701.0,515.7 702.3,515.7C703.6,515.7 705.0,428.0 706.3,428.0C707.6,428.0 708.8,503.0 710.1,503.0C712.2,503.0 714.2,348.2 716.3,348.2C717.6,348.2 719.0,421.1 720.4,421.1C722.4,421.1 724.5,334.2 726.5,334.2C728.6,334.2 730.8,431.3 732.9,431.3C734.7,431.3 736.6,312.9 738.4,312.9C740.5,312.9 742.7,443.5 744.8,443.5C746.9,443.5 749.0,413.2 751.2,413.2C752.6,413.2 754.1,551.0 755.6,551.0C756.9,551.0 758.2,440.5 759.6,440.5C760.8,440.5 762.0,595.9 763.2,595.9C765.0,595.9 766.8,463.6 768.6,463.6C770.4,463.6 772.2,605.7 774.1,605.7C775.6,605.7 777.0,457.2 778.5,457.2C780.2,457.2 781.8,557.3 783.5,557.3C785.1,557.3 786.8,403.0 788.4,403.0C789.6,403.0 790.9,465.7 792.1,465.7C793.3,465.7 794.5,391.3 795.6,391.3C797.7,391.3 799.7,481.0 801.7,481.0C803.6,481.0 805.6,422.4 807.5,422.4C809.3,422.4 811.0,488.5 812.8,488.5C814.0,488.5 815.2,390.9 816.4,390.9C818.5,390.9 820.7,521.3 822.8,521.3C824.7,521.3 826.6,439.5 828.6,439.5C830.7,439.5 832.8,597.4 834.9,597.4C836.4,597.4 837.9,516.7 839.4,516.7C841.4,516.7 843.3,700.9 845.3,700.9C847.2,700.9 849.1,637.0 851.0,637.0C853.0,637.0 855.1,763.9 857.1,763.9C859.2,763.9 861.3,558.5 863.4,558.5C864.9,558.5 866.4,696.2 868.0,696.2C870.0,696.2 872.1,558.2 874.2,558.2C876.3,558.2 878.4,693.2 880.5,693.2C882.0,693.2 883.4,629.9 884.9,629.9C886.3,629.9 887.6,735.8 888.9,735.8C890.3,735.8 891.6,678.5 892.9,678.5C895.1,678.5 897.2,757.4 899.4,757.4C900.6,757.4 901.8,730.2 903.0,730.2C904.7,730.2 906.4,768.8 908.1,768.8C909.5,768.8 910.9,746.8 912.3,746.8C914.3,746.8 916.3,778.0 918.3,778.0C919.9,778.0 921.5,763.2 923.1,763.2C925.2,763.2 927.3,785.2 929.3,785.2C931.0,785.2 932.7,777.3 934.3,777.3C935.6,777.3 936.9,786.1 938.2,786.1C940.3,786.1 942.4,783.0 944.6,783.0C946.5,783.0 948.5,790.0 950.4,790.0C952.0,790.0 953.6,786.2 955.2,786.2C957.2,786.2 959.2,790.8 961.3,790.8C962.9,790.8 964.5,789.3 966.1,789.3C968.1,789.3 970.2,790.4 972.2,790.4C973.8,790.4 975.4,789.8 977.0,789.8C984.7,789.8 992.3,791.0 1000.0,791.0C1003.3,791.0 1006.7,791.0 1010.0,791.0"/>
<path stroke="#780005" d="M285.9,705.0C287.9,707.9 289.9,713.7 291.9,713.7C293.5,713.7 295.2,704.0 296.8,700.6C299.0,696.1 301.1,691.0 303.3,689.7C306.6,687.8 309.8,686.4 313.1,686.4C314.9,686.4 316.8,724.6 318.6,724.6C320.4,724.6 322.2,713.7 324.0,713.7C326.5,713.7 329.1,715.9 331.6,715.9C333.4,715.9 335.3,710.4 337.1,710.4C339.3,710.4 341.4,735.5 343.6,735.5C346.2,735.5 348.7,681.0 351.3,681.0C353.5,681.0 355.6,718.0 357.8,718.0C361.1,718.0 364.3,701.2 367.6,698.4C371.6,694.9 375.6,696.6 379.6,691.9C381.0,690.2 382.5,660.3 383.9,660.3C385.7,660.3 387.6,711.5 389.4,711.5C393.0,711.5 396.7,692.0 400.3,678.8C402.8,669.6 405.4,645.1 407.9,645.1C410.8,645.1 413.7,702.8 416.6,702.8C419.5,702.8 422.4,699.1 425.3,695.2C428.2,691.3 431.1,670.1 434.0,670.1C436.6,670.1 439.1,707.1 441.7,707.1C444.2,707.1 446.8,702.8 449.3,702.8C451.1,702.8 452.9,775.1 454.7,783.4C455.8,788.5 456.9,792.9 458.0,793.0C462.0,793.4 466.0,793.5 470.0,793.5C1090.0,793.5 1710.0,793.5 2330.0,793.5"/>
<path stroke="#b4e8b4" stroke-width="3" d="M284.8,787H2331"/>
<path stroke="#1a701a" stroke-width="6" d="M284.8,791.5H2331"/>
</g>
<g stroke="#d0d0d0" stroke-width="2.5" fill="none">
<line x1="249.5" y1="69" x2="249.5" y2="1512"/>
<line x1="249" y1="69.3" x2="2328" y2="69.3"/>
<line x1="246" y1="1518.3" x2="2332" y2="1518.3"/>
</g>
<rect x="245.7" y="65.5" width="2085.3" height="1449" fill="none" stroke="#000" stroke-width="5"/>
<g font-size="62" text-anchor="end">
<text transform="translate(213,85.2) scale(1,1.075)">0.6</text>
<text transform="translate(213,326.8) scale(1,1.075)">0.4</text>
<text transform="translate(213,568.4) scale(1,1.075)">0.2</text>
<text transform="translate(213,810.0) scale(1,1.075)">0.0</text>
<text transform="translate(213,1051.6) scale(1,1.075)">-0.2</text>
<text transform="translate(213,1293.2) scale(1,1.075)">-0.4</text>
<text transform="translate(213,1534.8) scale(1,1.075)">-0.6</text>
</g>
<g font-size="62" text-anchor="middle">
<text transform="translate(246.7,1595) scale(1,1.075)">1200</text>
<text transform="translate(663.8,1595) scale(1,1.075)">1300</text>
<text transform="translate(1080.8,1595) scale(1,1.075)">1400</text>
<text transform="translate(1497.9,1595) scale(1,1.075)">1500</text>
<text transform="translate(1914.9,1595) scale(1,1.075)">1600</text>
<text transform="translate(2332.0,1595) scale(1,1.075)">1700</text>
</g>
<text x="1003" y="1721" font-size="75">wavenumber(cm<tspan font-size="47" dy="-33">-</tspan><tspan font-size="47" dx="3">1</tspan><tspan dy="33" dx="3">)</tspan></text>
<text transform="translate(89.5,906) rotate(-90)" font-size="76.5">&#948;BT(K)</text>
<rect x="2010.2" y="100" width="295.3" height="464.2" fill="#fff" stroke="#111" stroke-width="2.2"/>
<line x1="2012" y1="130.7" x2="2111" y2="130.7" stroke="#2340e0" stroke-width="7"/>
<text transform="translate(2121.7,146.0) scale(1,1.075)" font-size="42" letter-spacing="2">T 1K</text>
<line x1="2012" y1="189.9" x2="2111" y2="189.9" stroke="#404040" stroke-width="7"/>
<text transform="translate(2121.7,204.7) scale(1,1.075)" font-size="42" letter-spacing="2">H<tspan font-size="28" dy="12">2</tspan><tspan dy="-12">O 10%</tspan></text>
<line x1="2012" y1="256.4" x2="2111" y2="256.4" stroke="#e0d850" stroke-width="7"/>
<text transform="translate(2121.7,273.0) scale(1,1.075)" font-size="42" letter-spacing="2">CO<tspan font-size="28" dy="12">2</tspan><tspan dy="-12"> 1%</tspan></text>
<line x1="2012" y1="325.8" x2="2111" y2="325.8" stroke="#e60c0c" stroke-width="7"/>
<text transform="translate(2121.7,341.0) scale(1,1.075)" font-size="42" letter-spacing="2">CH<tspan font-size="28" dy="12">4</tspan><tspan dy="-12"> 10%</tspan></text>
<line x1="2012" y1="392.7" x2="2111" y2="392.7" stroke="#e4b0f2" stroke-width="7"/>
<text transform="translate(2108.7,410.0) scale(1,1.075)" font-size="42" letter-spacing="2">N<tspan font-size="28" dy="12">2</tspan><tspan dy="-12">O 10%</tspan></text>
<line x1="2012" y1="461.7" x2="2111" y2="461.7" stroke="#780005" stroke-width="7"/>
<text transform="translate(2121.7,477.0) scale(1,1.075)" font-size="42" letter-spacing="2">O<tspan font-size="28" dy="12">3</tspan><tspan dy="-12"> 10%</tspan></text>
<line x1="2012" y1="529.4" x2="2111" y2="529.4" stroke="#b4e8b4" stroke-width="10"/>
<line x1="2012" y1="529.4" x2="2111" y2="529.4" stroke="#1a701a" stroke-width="5"/>
<text transform="translate(2121.7,544.7) scale(1,1.075)" font-size="42" letter-spacing="2">CO 10%</text>
</svg></body></html>
